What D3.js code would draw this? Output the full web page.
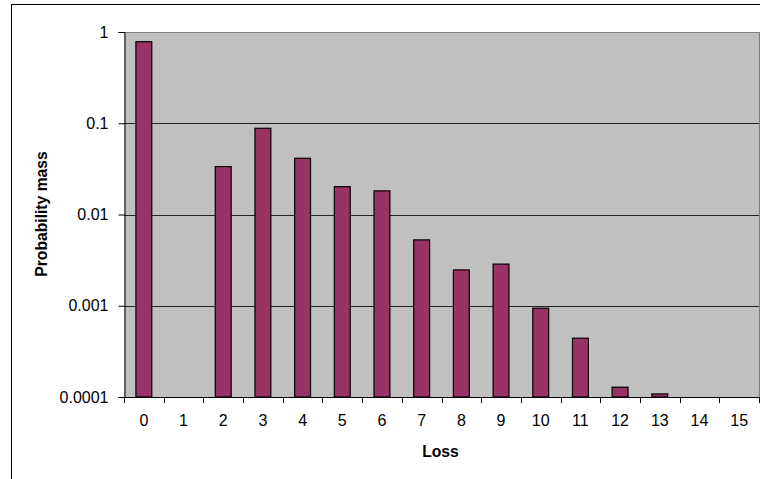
<!DOCTYPE html>
<html>
<head>
<meta charset="utf-8">
<script src="https://cdn.jsdelivr.net/npm/d3@7"></script>
<style>
  html, body { margin: 0; padding: 0; background: #ffffff; }
  svg { display: block; font-family: Arial, "Liberation Sans", sans-serif; }
</style>
</head>
<body>
<svg id="chart" width="760" height="479"></svg>
<script>
// Loss outcomes on the horizontal axis
const losses = ["0","1","2","3","4","5","6","7","8","9","10","11","12","13","14","15"];
// Probability mass for each loss (0 = no bar on the log axis)
const probMass = [0.783, 0, 0.0335, 0.0881, 0.0413, 0.0202, 0.01815, 0.00527,
                  0.00247, 0.00286, 0.00094, 0.000441, 0.000128, 0.000108, 0, 0];
// Log-axis tick values and their labels
const yTickValues = [1, 0.1, 0.01, 0.001, 0.0001];
const yTickLabels = ["1", "0.1", "0.01", "0.001", "0.0001"];

const svg = d3.select("#chart");
const plot = { left: 124, top: 32, right: 759, bottom: 397 };

// outer chart frame
svg.append("rect")
  .attr("x", 11.5).attr("y", 4.5)
  .attr("width", 760).attr("height", 500)
  .attr("fill", "#ffffff").attr("stroke", "#000").attr("stroke-width", 1);

const x = d3.scaleBand()
  .domain(losses)
  .range([plot.left, plot.right])
  .paddingInner(0.6)
  .paddingOuter(0.3);

const y = d3.scaleLog()
  .domain([0.0001, 1])
  .range([plot.bottom, plot.top]);

// plot area background
svg.append("rect")
  .attr("x", plot.left).attr("y", plot.top)
  .attr("width", plot.right - plot.left).attr("height", plot.bottom - plot.top)
  .attr("fill", "#c0c0c0");

// horizontal gridlines
svg.append("g")
  .selectAll("line")
  .data(yTickValues.filter(v => v > 0.0001 && v < 1))
  .join("line")
  .attr("x1", plot.left).attr("x2", plot.right)
  .attr("y1", d => Math.round(y(d)) + 0.5).attr("y2", d => Math.round(y(d)) + 0.5)
  .attr("stroke", "#222").attr("stroke-width", 1);

// plot border (top and right)
svg.append("path")
  .attr("d", `M${plot.left},${plot.top + 0.5}H${plot.right + 0.5}V${plot.bottom}`)
  .attr("fill", "none").attr("stroke", "#808080").attr("stroke-width", 1.2);

// bars
svg.append("g")
  .selectAll("rect")
  .data(losses.map((l, i) => ({ loss: l, p: probMass[i] })).filter(d => d.p > 0.0001))
  .join("rect")
  .attr("x", d => x(d.loss))
  .attr("y", d => y(d.p))
  .attr("width", x.bandwidth())
  .attr("height", d => y(0.0001) - y(d.p))
  .attr("fill", "#993366")
  .attr("stroke", "#000")
  .attr("stroke-width", 1.2);

// y axis
const yAxis = d3.axisLeft(y)
  .tickValues(yTickValues)
  .tickFormat((d, i) => yTickLabels[i])
  .tickSizeOuter(0)
  .tickSize(6)
  .tickPadding(10);
const gy = svg.append("g")
  .attr("transform", `translate(${plot.left + 0.5},0)`)
  .call(yAxis);
gy.select(".domain").attr("stroke", "#000");
gy.selectAll(".tick line").attr("stroke", "#000");
gy.selectAll(".tick text")
  .attr("font-size", 16).attr("fill", "#000")
  .attr("font-family", "Arial, 'Liberation Sans', sans-serif");

// x axis: labels centred in each band, tick marks on band boundaries
const xAxis = d3.axisBottom(x).tickSize(0).tickPadding(17).tickSizeOuter(0);
const gx = svg.append("g")
  .attr("transform", `translate(0,${plot.bottom + 0.5})`)
  .call(xAxis);
gx.select(".domain").remove();
gx.selectAll(".tick text")
  .attr("font-size", 16).attr("fill", "#000")
  .attr("font-family", "Arial, 'Liberation Sans', sans-serif");

const boundaries = losses.map(l => x(l) - x.step() * x.paddingOuter()).concat([plot.right]);
svg.append("line")
  .attr("x1", plot.left).attr("x2", plot.right + 0.5)
  .attr("y1", plot.bottom + 0.5).attr("y2", plot.bottom + 0.5)
  .attr("stroke", "#000");
svg.append("g")
  .selectAll("line")
  .data(boundaries)
  .join("line")
  .attr("x1", d => Math.round(d) + 0.5).attr("x2", d => Math.round(d) + 0.5)
  .attr("y1", plot.bottom).attr("y2", plot.bottom + 6)
  .attr("stroke", "#000");

// axis titles
svg.append("text")
  .attr("x", (plot.left + plot.right) / 2 - 1)
  .attr("y", 457)
  .attr("text-anchor", "middle")
  .attr("font-size", 15.7).attr("font-weight", "bold")
  .text("Loss");

svg.append("text")
  .attr("transform", `translate(46.5,${(plot.top + plot.bottom) / 2 - 0.5}) rotate(-90)`)
  .attr("text-anchor", "middle")
  .attr("font-size", 15.7).attr("font-weight", "bold")
  .text("Probability mass");
</script>
</body>
</html>
